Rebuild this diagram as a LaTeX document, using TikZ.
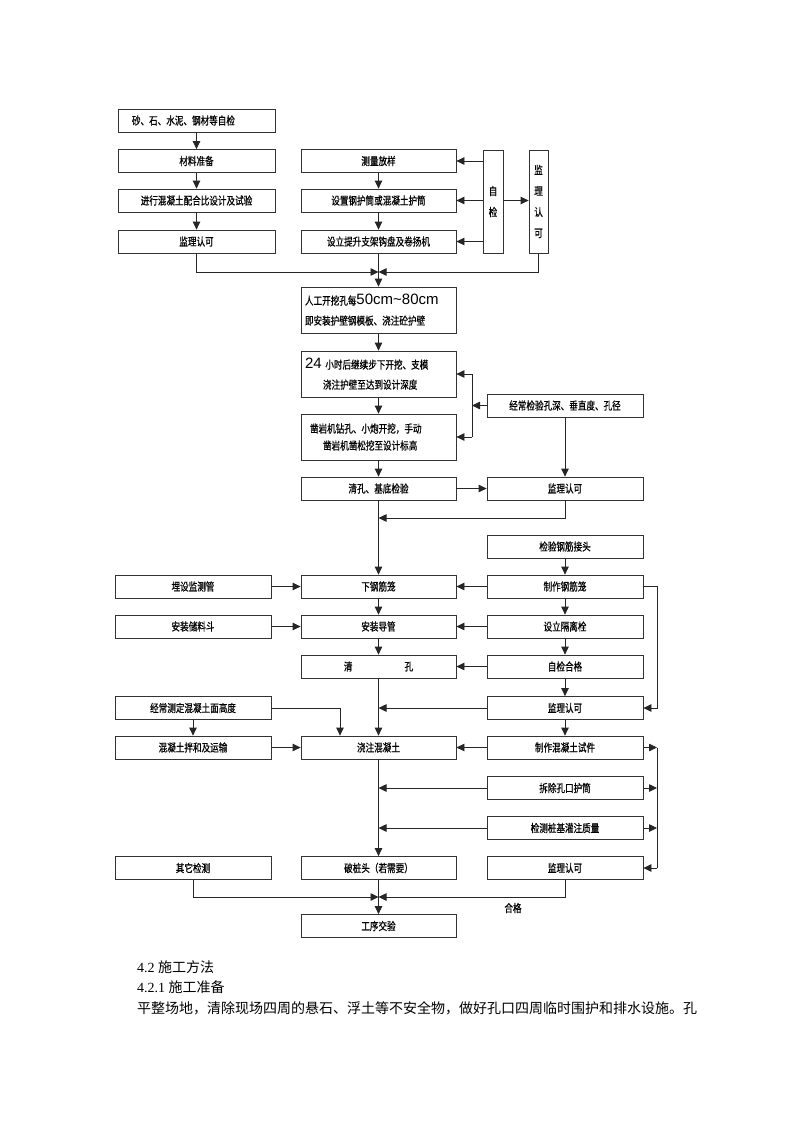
\documentclass[tikz,border=0pt]{standalone}
\usepackage{fontspec}
\setmainfont{Liberation Serif}
\newfontfamily\cjk[FakeStretch=0.78,FakeBold=0.6]{Noto Sans CJK SC}
\newfontfamily\cjkt{Noto Sans CJK SC}
\newfontfamily\numf{Liberation Sans}
\usetikzlibrary{arrows.meta}
\tikzset{
  box/.style={draw=black!80, line width=0.8pt, minimum height=23pt, inner sep=0pt,
    font=\cjk\fontsize{11}{12}\selectfont, anchor=center},
  wl/.style={box, minimum width=157pt},
  wm/.style={box, minimum width=155pt},
  ws/.style={box, minimum width=156pt},
  tall/.style={minimum height=46pt},
  vbox/.style={box, font=\cjk\fontsize{11}{21}\selectfont, align=center},
  arr/.style={draw=black!85, line width=0.8pt, -{Triangle[length=8pt,width=7.5pt]}},
  ln/.style={draw=black!85, line width=0.8pt},
  para/.style={anchor=base west, inner sep=0pt, font=\fontsize{14}{14}\selectfont},
  lbl/.style={inner sep=0pt, font=\cjk\fontsize{11}{12}\selectfont},
}
\newcommand{\bignum}[1]{{\numf\fontsize{15}{15}\selectfont #1}}
\begin{document}
\begin{tikzpicture}[x=1pt,y=-1pt]
\useasboundingbox (0,0) rectangle (800,1132);
\fill[white] (0,0) rectangle (800,1132);

% ---- top section ----
\node[wl, text width=129pt, inner xsep=14pt, align=left] (a1) at (196.5,120.5) {砂、石、水泥、钢材等自检};
\node[wl] (a2) at (196.5,161) {材料准备};
\node[wl] (a3) at (196.5,200.5) {进行混凝土配合比设计及试验};
\node[wl] (a4) at (196.5,241.5) {监理认可};

\node[wm] (b1) at (378.5,161) {测量放样};
\node[wm] (b2) at (378.5,200.5) {设置钢护筒或混凝土护筒};
\node[wm] (b3) at (378.5,241.5) {设立提升支架钩盘及卷扬机};

\node[vbox, minimum width=20pt, minimum height=103pt] (zj) at (493,201.5) {自\\检};
\node[vbox, minimum width=19pt, minimum height=103pt] (jl) at (538.5,201.5) {监\\理\\认\\可};

\coordinate (j1) at (378.5,272);

\draw[arr] (a1) -- (a2);
\draw[arr] (a2) -- (a3);
\draw[arr] (a3) -- (a4);
\draw[arr] (b1) -- (b2);
\draw[arr] (b2) -- (b3);
\draw[arr] (zj.west |- b1) -- (b1.east);
\draw[arr] (zj.west |- b2) -- (b2.east);
\draw[arr] (zj.west |- b3) -- (b3.east);
\draw[arr] (zj.east |- b2) -- (jl.west |- b2);
\draw[arr] (a4.south) -- (a4.south |- j1) -- (j1);
\draw[arr] (jl.south) -- (jl.south |- j1) -- (j1);

% ---- middle section ----
\node[wm, tall, text width=147pt, inner xsep=4pt, align=left,
  font=\cjk\fontsize{11}{20}\selectfont] (c1) at (378.5,310)
  {人工开挖孔每\bignum{50cm\textasciitilde80cm}\\即安装护壁钢模板、浇注砼护壁};
\node[wm, tall, text width=147pt, inner xsep=4pt, align=left,
  font=\cjk\fontsize{11}{20}\selectfont] (c2) at (378.5,374)
  {\bignum{24} 小时后继续步下开挖、支模\\\hspace*{18pt}浇注护壁至达到设计深度};
\node[wm, tall, text width=137pt, inner xsep=9pt, align=left,
  font=\cjk\fontsize{11}{17}\selectfont] (c3) at (378.5,437)
  {凿岩机钻孔、小炮开挖，手动\\\hspace*{13pt}凿岩机凿松挖至设计标高};
\node[wm] (c4) at (378.5,488.5) {清孔、基底检验};

\node[ws] (d1) at (565,405.5) {经常检验孔深、垂直度、孔径};
\node[ws] (d2) at (565,488.5) {监理认可};

\coordinate (v) at (472,405.5);
\coordinate (vt) at (472,374);
\coordinate (vb) at (472,437);
\coordinate (j3) at (378.5,518);

\draw[ln] (j1) -- (b3.south);
\draw[arr] (j1) -- (c1.north);
\draw[arr] (c1) -- (c2);
\draw[arr] (c2) -- (c3);
\draw[arr] (c3) -- (c4);
\draw[arr] (d1.west) -- (v);
\draw[ln] (vt) -- (vb);
\draw[arr] (vt) -- (c2.east);
\draw[arr] (vb) -- (c3.east);
\draw[arr] (d1) -- (d2);
\draw[arr] (c4.east) -- (d2.west);
\draw[arr] (d2.south) -- (d2.south |- j3) -- (j3);

% ---- lower section ----
\node[ws] (e0) at (565,546.5) {检验钢筋接头};

\node[ws] (L1) at (193,586.5) {埋设监测管};
\node[wm] (M1) at (378.5,586.5) {下钢筋笼};
\node[ws] (R1) at (565,586.5) {制作钢筋笼};

\node[ws] (L2) at (193,626.5) {安装储料斗};
\node[wm] (M2) at (378.5,626.5) {安装导管};
\node[ws] (R2) at (565,626.5) {设立隔离栓};

\node[wm] (M3) at (378.5,666.5) {清\hspace{52pt}孔};
\node[ws] (R3) at (565,666.5) {自检合格};

\node[ws] (L4) at (193,708) {经常测定混凝土面高度};
\node[ws] (R4) at (565,708) {监理认可};

\node[ws] (L5) at (193,747.5) {混凝土拌和及运输};
\node[wm] (M5) at (378.5,747.5) {浇注混凝土};
\node[ws] (R5) at (565,747.5) {制作混凝土试件};

\node[ws] (R6) at (565,788) {拆除孔口护筒};
\node[ws] (R7) at (565,828) {检测桩基灌注质量};

\node[ws] (L8) at (193,868) {其它检测};
\node[wm] (M8) at (378.5,868) {破桩头（若需要）};
\node[ws] (R8) at (565,868) {监理认可};

\node[wm] (M9) at (378.5,926) {工序交验};
\node[lbl] (hg) at (513,908) {合格};

\coordinate (rr) at (657,586.5);
\coordinate (j4) at (378.5,708);
\coordinate (k1) at (340,708);
\coordinate (s1) at (657,747.5);
\coordinate (s2) at (657,788);
\coordinate (s3) at (657,828);
\coordinate (s4) at (657,868);
\coordinate (m6) at (378.5,788);
\coordinate (m7) at (378.5,828);
\coordinate (j2) at (378.5,897);

\draw[arr] (c4.south) -- (M1.north);
\draw[arr] (M1) -- (M2);
\draw[arr] (M2) -- (M3);
\draw[arr] (M3.south) -- (M5.north);
\draw[arr] (e0) -- (R1);
\draw[arr] (R1) -- (R2);
\draw[arr] (R2) -- (R3);
\draw[arr] (R3) -- (R4);
\draw[arr] (R4) -- (R5);
\draw[arr] (R1.west) -- (M1.east);
\draw[arr] (R2.west) -- (M2.east);
\draw[arr] (R3.west) -- (M3.east);
\draw[arr] (L1.east) -- (M1.west);
\draw[arr] (L2.east) -- (M2.west);
\draw[arr] (R1.east) -- (rr) -- (rr |- R4) -- (R4.east);
\draw[arr] (R4.west) -- (j4);
\draw[arr] (L4.east) -- (k1) -- (k1 |- M5.north);
\draw[arr] (L4) -- (L5);
\draw[arr] (L5.east) -- (M5.west);
\draw[arr] (R5.west) -- (M5.east);
\draw[arr] (R5.east) -- (s1);
\draw[arr] (R6.east) -- (s2);
\draw[arr] (R7.east) -- (s3);
\draw[ln] (s1) -- (s4);
\draw[arr] (s4) -- (R8.east);
\draw[arr] (R6.west) -- (m6);
\draw[arr] (R7.west) -- (m7);
\draw[arr] (M5) -- (M8);
\draw[arr] (L8.south) -- (L8.south |- j2) -- (j2);
\draw[arr] (R8.south) -- (R8.south |- j2) -- (j2);
\draw[ln] (M8.south) -- (j2);
\draw[arr] (j2) -- (M9.north);

% ---- text below ----
\node[para] (p1) at (137,972) {4.2 {\cjkt 施工方法}};
\node[para] (p2) at (137,992) {4.2.1 {\cjkt 施工准备}};
\node[para] (p3) at (137,1013) {\cjkt 平整场地，清除现场四周的悬石、浮土等不安全物，做好孔口四周临时围护和排水设施。孔};
\end{tikzpicture}
\end{document}
